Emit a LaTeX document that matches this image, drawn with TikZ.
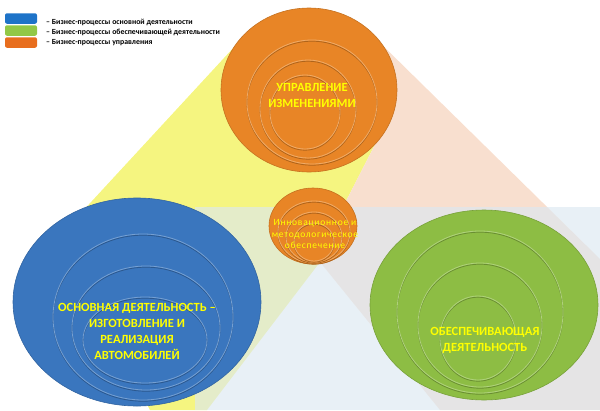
\documentclass[tikz,border=0pt]{standalone}
\usepackage{fontspec}
\setmainfont{Carlito}

\definecolor{discblue}{RGB}{58,118,190}
\definecolor{discgreen}{RGB}{141,189,68}
\definecolor{discorange}{RGB}{232,133,38}
\definecolor{bgyellow}{RGB}{245,245,128}
\definecolor{bgpeach}{RGB}{248,223,207}
\definecolor{bglight}{RGB}{220,232,241}
\definecolor{labelyellow}{RGB}{255,255,0}
\definecolor{keyblue}{RGB}{30,115,200}
\definecolor{keygreen}{RGB}{146,200,70}
\definecolor{keyorange}{RGB}{232,110,30}

\begin{document}
\begin{tikzpicture}[x=1pt,y=-1pt,
    disc/.style={fill=#1,draw=#1!85!black,line width=0.6pt},
    ring/.style={draw=#1!70!white,line width=0.8pt,
      preaction={draw=#1!75!black,line width=0.8pt,transform canvas={yshift=-1.2pt}}},
    lbl/.style={text=labelyellow,align=center,font=\bfseries\fontsize{12.5}{16}\selectfont},
    smalllbl/.style={text=labelyellow,align=center,
      font=\fontsize{9.5}{11.5}\selectfont\addfontfeature{LetterSpace=8}},
    keybox/.style={rounded corners=2pt,minimum width=32pt,minimum height=10.5pt,inner sep=0pt},
    keytxt/.style={anchor=west,inner sep=0pt,font=\bfseries\fontsize{7.8}{8}\selectfont}]

  \useasboundingbox (0,0) rectangle (600,410);
  \clip (0,0) rectangle (600,410);

  % background wedges
  \fill[bgyellow] (309,90) -- (236,45) -- (56,240) -- (150,410) -- (207,410)
    -- (320,262) -- (343,207) -- (385,125) -- cycle;
  \fill[bgpeach] (309,90) -- (370,33) -- (600,259) -- (600,410) -- (440,410)
    -- (320,262) -- (343,207) -- (385,125) -- cycle;
  \fill[bglight,opacity=0.65] (195,207) rectangle (600,410);

  % main activity
  \fill[disc=discblue] (137,302) ellipse [x radius=124,y radius=104];
  \draw[ring=discblue] (143,317) ellipse [x radius=90,y radius=83];
  \draw[ring=discblue] (146,328) ellipse [x radius=74,y radius=62];
  \draw[ring=discblue] (145,340) ellipse [x radius=62,y radius=43];

  % support activity
  \fill[disc=discgreen] (484,305) ellipse [x radius=114,y radius=95];
  \draw[ring=discgreen] (480,312) ellipse [x radius=83,y radius=81];
  \draw[ring=discgreen] (480,325) ellipse [x radius=62,y radius=62];
  \draw[ring=discgreen] (478,338) ellipse [x radius=38,y radius=42];

  % change management
  \fill[disc=discorange] (309,90) ellipse [x radius=88,y radius=82];
  \draw[ring=discorange] (312,102) ellipse [x radius=65,y radius=62];
  \draw[ring=discorange] (308,109) ellipse [x radius=48,y radius=49];
  \draw[ring=discorange] (305,112) ellipse [x radius=35,y radius=37];

  % core
  \fill[disc=discorange] (313,226) ellipse [x radius=44,y radius=38];
  \draw[ring=discorange] (314,232) ellipse [x radius=36,y radius=31];
  \draw[ring=discorange] (314,237) ellipse [x radius=28,y radius=25];
  \draw[ring=discorange] (314,242) ellipse [x radius=20,y radius=19];

  \node[lbl] (mgmtlbl) at (312,95) {УПРАВЛЕНИЕ\\ИЗМЕНЕНИЯМИ};
  \node[lbl] (mainlbl) at (137,331) {ОСНОВНАЯ ДЕЯТЕЛЬНОСТЬ –\\ИЗГОТОВЛЕНИЕ И\\РЕАЛИЗАЦИЯ\\АВТОМОБИЛЕЙ};
  \node[lbl] (supplbl) at (485,340) {ОБЕСПЕЧИВАЮЩАЯ\\ДЕЯТЕЛЬНОСТЬ};
  \node[smalllbl] (corelbl) at (315,234) {Инновационное и\\методологическое\\обеспечение};

  % key
  \node[keybox,fill=keyblue] (keymain) at (21,18.5) {};
  \node[keybox,fill=keygreen] (keysupp) at (21,30.5) {};
  \node[keybox,fill=keyorange] (keymgmt) at (21,42.5) {};
  \node[keytxt] (txtmain) at (46,22.5) {– Бизнес-процессы основной деятельности};
  \node[keytxt] (txtsupp) at (46,32.5) {– Бизнес-процессы обеспечивающей деятельности};
  \node[keytxt] (txtmgmt) at (46,42.5) {– Бизнес-процессы управления};

\end{tikzpicture}
\end{document}
